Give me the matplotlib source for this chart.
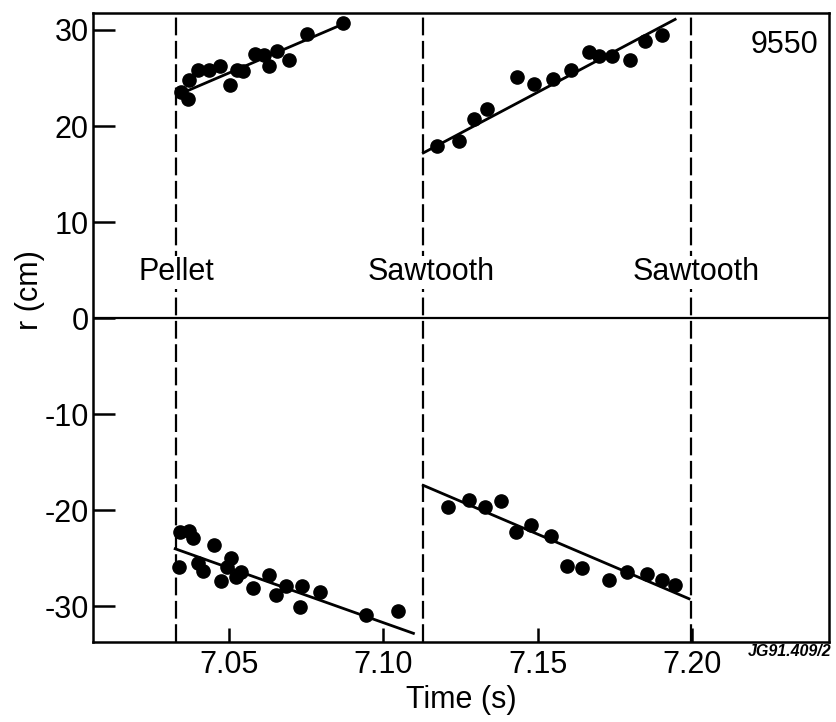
import matplotlib
matplotlib.use("Agg")
import matplotlib.pyplot as plt

plt.rcParams['font.family'] = ['Liberation Sans', 'DejaVu Sans']
plt.rcParams['axes.unicode_minus'] = False

# --- data ---
tl_t = [7.0346, 7.0367, 7.0373, 7.0402, 7.0435, 7.0472, 7.0503, 7.0527, 7.0548,
        7.0586, 7.0613, 7.0629, 7.0656, 7.0694, 7.0753, 7.0871]
tl_r = [23.5, 22.8, 24.8, 25.8, 25.8, 26.2, 24.3, 25.8, 25.7,
        27.5, 27.4, 26.2, 27.8, 26.9, 29.6, 30.7]

tr_t = [7.1174, 7.1244, 7.1294, 7.1337, 7.1433, 7.1489, 7.1549, 7.1608, 7.1667,
        7.1700, 7.1740, 7.1799, 7.1848, 7.1904]
tr_r = [17.9, 18.4, 20.7, 21.8, 25.1, 24.4, 24.9, 25.8, 27.7,
        27.3, 27.3, 26.9, 28.8, 29.5]

bl_t = [7.0343, 7.0373, 7.0386, 7.0338, 7.0402, 7.0418, 7.0454, 7.0476, 7.0494,
        7.0508, 7.0523, 7.0540, 7.0580, 7.0629, 7.0654, 7.0686, 7.0731, 7.0737,
        7.0796, 7.0945, 7.1049]
bl_r = [-22.3, -22.2, -22.9, -25.9, -25.5, -26.3, -23.6, -27.4, -25.9,
        -25.0, -26.9, -26.4, -28.1, -26.7, -28.8, -27.9, -30.1, -27.9,
        -28.5, -30.9, -30.5]

br_t = [7.1211, 7.1279, 7.1330, 7.1381, 7.1429, 7.1479, 7.1544, 7.1594, 7.1643,
        7.1731, 7.1789, 7.1853, 7.1902, 7.1943]
br_r = [-19.7, -18.9, -19.6, -19.0, -22.3, -21.5, -22.7, -25.8, -26.0,
        -27.3, -26.4, -26.6, -27.2, -27.8]

# fitted lines (end points)
fit_tl_t = [7.0340, 7.0855]
fit_tl_r = [23.3, 30.4]
fit_tr_t = [7.1130, 7.1945]
fit_tr_r = [17.2, 31.1]
fit_bl_t = [7.0327, 7.1098]
fit_bl_r = [-24.0, -32.8]
fit_br_t = [7.1130, 7.1990]
fit_br_r = [-17.4, -29.2]

event_t = [7.0330, 7.1130, 7.1995]
event_labels = ["Pellet", "Sawtooth", "Sawtooth"]
event_label_t = [7.0330, 7.1155, 7.2013]

xticks = [7.05, 7.10, 7.15, 7.20]
xticklabels = ["7.05", "7.10", "7.15", "7.20"]
yticks = [30, 20, 10, 0, -10, -20, -30]

fig = plt.figure(figsize=(8.37, 7.22), dpi=100)
ax = fig.add_axes([93/837, 1 - 641.7/722, (829-93)/837, (641.7-13.3)/722])

ax.set_xlim(7.0061, 7.2443)
ax.set_ylim(-33.67, 31.73)

for t in event_t:
    ax.axvline(t, color='black', lw=1.6, ls=(0, (8, 2.5)), zorder=1)
ax.axhline(0, color='black', lw=1.6, zorder=1)

for tt, rr in [(tl_t, tl_r), (tr_t, tr_r), (bl_t, bl_r), (br_t, br_r)]:
    ax.plot(tt, rr, 'o', color='black', markersize=9.5, zorder=3)
for tt, rr in [(fit_tl_t, fit_tl_r), (fit_tr_t, fit_tr_r),
               (fit_bl_t, fit_bl_r), (fit_br_t, fit_br_r)]:
    ax.plot(tt, rr, '-', color='black', lw=2.0, zorder=2)

for t, lab in zip(event_label_t, event_labels):
    ax.text(t, 4.8, lab, fontsize=22, ha='center', va='center', zorder=4,
            bbox=dict(facecolor='white', edgecolor='none', pad=1))

ax.text(0.985, 0.95, "9550", transform=ax.transAxes, fontsize=22,
        ha='right', va='center')

ax.set_xticks(xticks)
ax.set_xticklabels(xticklabels)
ax.set_yticks(yticks)
ax.tick_params(axis='y', direction='in', length=16, width=1.8, labelsize=22, pad=3)
ax.tick_params(axis='x', direction='in', length=10, width=1.8, labelsize=22, pad=6)
for s in ax.spines.values():
    s.set_linewidth(1.8)

ax.set_xlabel("Time (s)", fontsize=22)
ax.xaxis.set_label_coords(0.5, -0.093)
ax.xaxis.label.set_va('center')
ax.set_ylabel("r (cm)", fontsize=22)
ax.yaxis.set_label_coords(-0.0856, 0.56)
ax.yaxis.label.set_va('center')

fig.text(790/837, 1 - 652/722, "JG91.409/2", fontsize=11.5, fontweight='bold',
         ha='center', va='center', style='italic')

fig.savefig("out.png", dpi=100)
